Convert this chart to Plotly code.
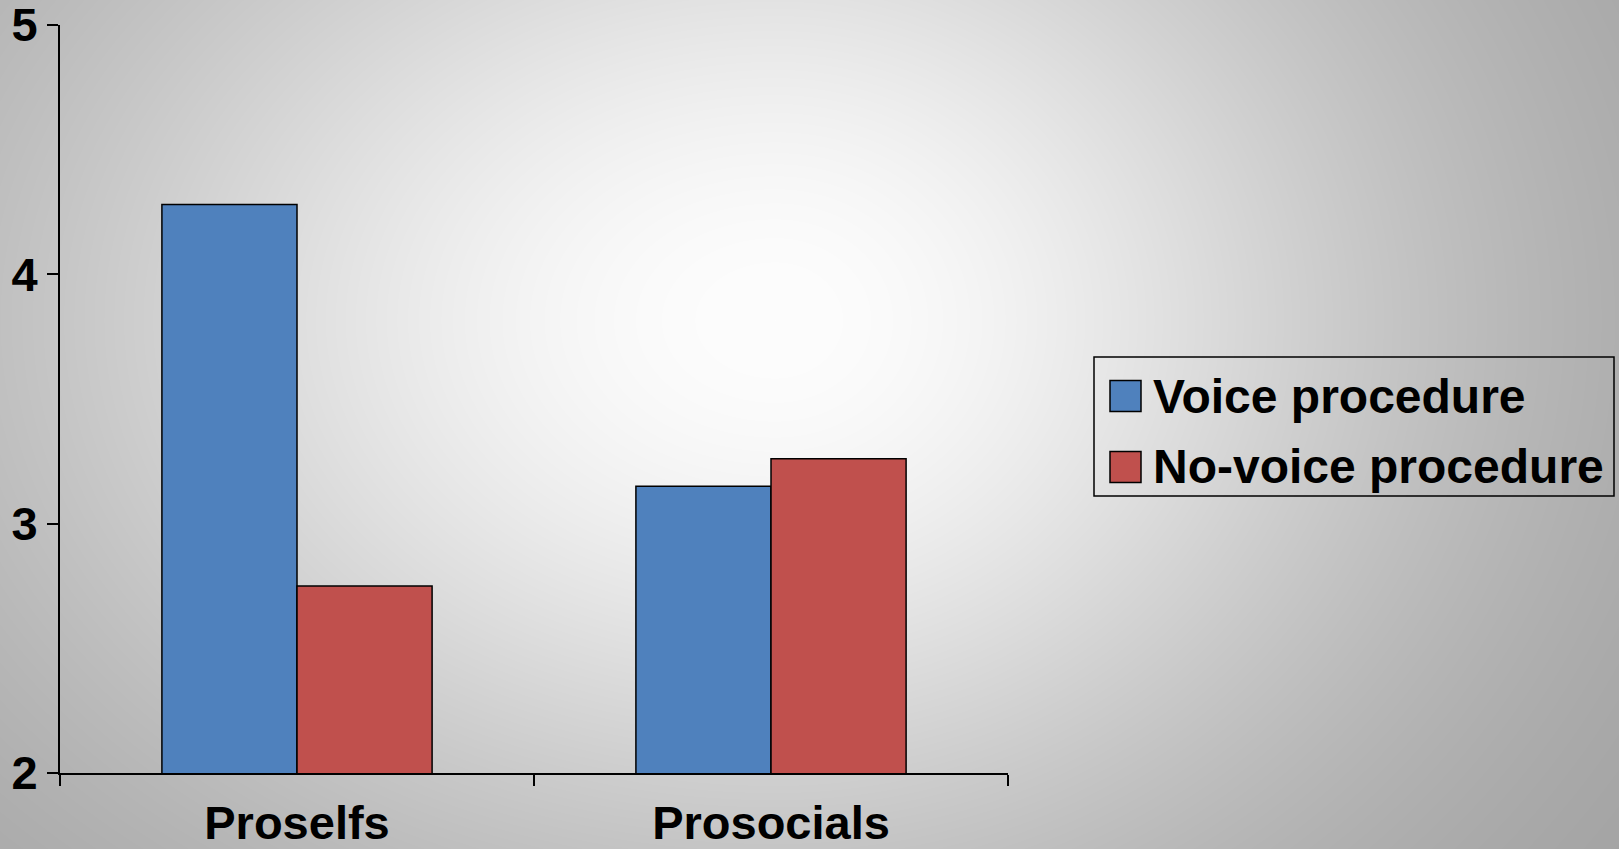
import base64
import struct
import zlib

import numpy as np
import plotly.graph_objects as go

# ---- data ----
groups = ["Proselfs", "Prosocials"]
series_names = ["Voice procedure", "No-voice procedure"]
voice = [4.28, 3.15]
no_voice = [2.75, 3.26]
y_ticks = [2, 3, 4, 5]

colors = ["#4F81BD", "#C0504D"]

W, H = 1619, 849
# plot area in pixels
PL, PR, PT, PB = 60, 1008, 25, 773
FONT = "Arial, Liberation Sans, sans-serif"


def radial_background(w, h):
    """Grey radial gradient, light in the middle and darker towards the edges."""
    xs = np.arange(w, dtype=float)[None, :]
    ys = np.arange(h, dtype=float)[:, None]
    cx, cy = 775.0, 320.0
    rx = np.where(xs < cx, 1020.0, 860.0)
    r2 = ((xs - cx) / rx) ** 2 + ((ys - cy) / 740.0) ** 2
    g = 253 - 96 * (1 - np.exp(-1.7 * r2))
    g = np.clip(g, 0, 255).astype(np.uint8)
    raw = b"".join(b"\x00" + g[i].tobytes() for i in range(h))

    def chunk(tag, data):
        c = struct.pack(">I", len(data)) + tag + data
        return c + struct.pack(">I", zlib.crc32(tag + data) & 0xFFFFFFFF)

    png = b"\x89PNG\r\n\x1a\n"
    png += chunk(b"IHDR", struct.pack(">IIBBBBB", w, h, 8, 0, 0, 0, 0))
    png += chunk(b"IDAT", zlib.compress(raw, 9))
    png += chunk(b"IEND", b"")
    return "data:image/png;base64," + base64.b64encode(png).decode()


fig = go.Figure()
for name, vals, col in zip(series_names, [voice, no_voice], colors):
    fig.add_trace(go.Bar(
        x=groups, y=vals, name=name,
        marker=dict(color=col, line=dict(color="black", width=1.5)),
        showlegend=False,
    ))


# paper coordinates are relative to the plot area
def px_x(v):
    return (v - PL) / (PR - PL)


def px_y(v):
    return (PB - v) / (PB - PT)


# legend drawn as boxed swatches with labels
shapes = [dict(type="rect", xref="paper", yref="paper",
               x0=px_x(1094), x1=px_x(1614), y0=px_y(496), y1=px_y(357),
               line=dict(color="black", width=1.5), fillcolor="rgba(0,0,0,0)")]
annotations = []
row_centers = [396, 467]
for name, col, yc in zip(series_names, colors, row_centers):
    shapes.append(dict(type="rect", xref="paper", yref="paper",
                       x0=px_x(1110), x1=px_x(1141),
                       y0=px_y(yc + 15.5), y1=px_y(yc - 15.5),
                       line=dict(color="black", width=1.5), fillcolor=col))
    annotations.append(dict(xref="paper", yref="paper", x=px_x(1151), y=px_y(yc),
                            xanchor="left", yanchor="middle", showarrow=False,
                            text="<b>%s</b>" % name,
                            font=dict(family=FONT, size=48, color="black")))

fig.update_layout(
    width=W, height=H,
    margin=dict(l=PL, r=W - PR, t=PT, b=H - PB, autoexpand=False),
    barmode="group", bargap=0.43, bargroupgap=0,
    paper_bgcolor="#a8a8a8", plot_bgcolor="rgba(0,0,0,0)",
    font=dict(family=FONT, size=47, color="black"),
    images=[dict(source=radial_background(W, H), xref="paper", yref="paper",
                 x=px_x(0), y=px_y(0),
                 sizex=W / (PR - PL), sizey=H / (PB - PT),
                 xanchor="left", yanchor="top", sizing="stretch", layer="below")],
    shapes=shapes,
    annotations=annotations,
    xaxis=dict(
        showline=True, linecolor="black", linewidth=2,
        ticks="outside", ticklen=11, tickwidth=1.5, tickcolor="black",
        tickson="boundaries", showgrid=False, zeroline=False,
        automargin=False, ticklabelstandoff=8,
        tickfont=dict(family=FONT, size=47, color="black", weight="bold"),
    ),
    yaxis=dict(
        range=[2, 5], tickvals=y_ticks,
        showline=True, linecolor="black", linewidth=2,
        ticks="outside", ticklen=11, tickwidth=1.5, tickcolor="black",
        showgrid=False, zeroline=False, automargin=False,
        ticklabeloverflow="allow",
        tickfont=dict(family=FONT, size=47, color="black", weight="bold"),
    ),
)

fig.write_html("out.html")
